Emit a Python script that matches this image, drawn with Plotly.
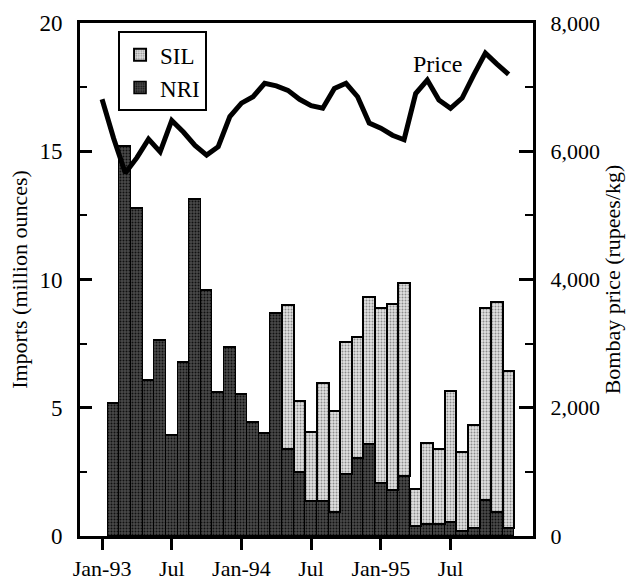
import plotly.graph_objects as go

# Monthly categories, Jan-93 .. Dec-95
years = ["93", "94", "95"]
month_names = ["Jan", "Feb", "Mar", "Apr", "May", "Jun",
               "Jul", "Aug", "Sep", "Oct", "Nov", "Dec"]
months = [f"{m}-{y}" for y in years for m in month_names]

# Imports (million ounces); no shipment data for Jan-93
nri = [None, 5.2, 15.2, 12.8, 6.1, 7.65, 3.95, 6.8, 13.15, 9.6, 5.6, 7.35,
       5.55, 4.45, 4.0, 8.7, 3.4, 2.5, 1.35, 1.35, 0.95, 2.4, 3.05, 3.6,
       2.05, 1.8, 2.35, 0.4, 0.45, 0.45, 0.55, 0.2, 0.3, 1.4, 0.95, 0.3]
sil = [None, 0, 0, 0, 0, 0, 0, 0, 0, 0, 0, 0,
       0, 0, 0, 0, 5.6, 2.75, 2.7, 4.6, 3.92, 5.15, 4.72, 5.7,
       6.83, 7.23, 7.53, 1.45, 3.17, 2.93, 5.1, 3.07, 4.02, 7.48, 8.16, 6.13]

# Bombay price (rupees/kg)
price = [6810, 6200, 5660, 5900, 6190, 5990, 6480, 6300, 6090, 5940, 6070, 6540,
         6750, 6850, 7060, 7020, 6950, 6810, 6710, 6670, 6980, 7060, 6850, 6440,
         6360, 6250, 6180, 6900, 7110, 6800, 6670, 6830, 7190, 7530, 7360, 7200]

tick_months = ["Jan-93", "Jul-93", "Jan-94", "Jul-94", "Jan-95", "Jul-95"]
tick_text = ["Jan-93", "Jul", "Jan-94", "Jul", "Jan-95", "Jul"]

FONT = "Liberation Serif, Times New Roman, serif"

fig = go.Figure()

fig.add_trace(go.Bar(
    x=months, y=nri, name="NRI",
    marker=dict(color="#363636",
                line=dict(color="black", width=1.5),
                pattern=dict(shape=".", size=3, solidity=0.35,
                             fgcolor="#101010", bgcolor="#4a4a4a",
                             fillmode="replace")),
))
fig.add_trace(go.Bar(
    x=months, y=sil, name="SIL",
    marker=dict(color="#c4c4c4",
                line=dict(color="black", width=2),
                pattern=dict(shape=".", size=3, solidity=0.35,
                             fgcolor="#8c8c8c", bgcolor="#e2e2e2",
                             fillmode="replace")),
))
fig.add_trace(go.Scatter(
    x=months, y=price, yaxis="y2", mode="lines",
    line=dict(color="black", width=5), showlegend=False,
))

fig.add_annotation(text="Price", xref="paper", yref="paper", x=0.79, y=0.92,
                   xanchor="center", yanchor="middle", showarrow=False,
                   font=dict(family=FONT, size=24, color="black"))

fig.update_layout(
    width=632, height=583,
    margin=dict(l=80, r=99, t=23, b=47),
    paper_bgcolor="white", plot_bgcolor="white",
    barmode="stack", bargap=0,
    font=dict(family=FONT, size=22, color="black"),
    legend=dict(x=0.084, y=0.984, xanchor="left", yanchor="top",
                traceorder="reversed", bordercolor="black", borderwidth=2,
                bgcolor="white", font=dict(family=FONT, size=23),
                tracegroupgap=0),
    xaxis=dict(type="category", categoryorder="array", categoryarray=months,
               range=[-1.9, 37.1], showline=True, linecolor="black", linewidth=3,
               mirror=True, ticks="outside", ticklen=11, tickwidth=2.5,
               tickcolor="black", tickvals=tick_months, ticktext=tick_text,
               ticklabelstandoff=0, tickfont=dict(size=22), automargin=False,
               showgrid=False, zeroline=False),
    yaxis=dict(range=[0, 20], dtick=5, showline=True, linecolor="black",
               linewidth=3, ticks="inside", ticklen=12, tickwidth=2.5,
               tickcolor="black", ticklabelstandoff=10, automargin=False,
               minor=dict(dtick=2.5, ticks="inside", ticklen=7, tickwidth=2,
                          tickcolor="black"),
               title=dict(text="Imports (million ounces)", standoff=6,
                          font=dict(size=22)),
               tickfont=dict(size=23), showgrid=False, zeroline=False),
    yaxis2=dict(range=[0, 8000], dtick=2000, overlaying="y", side="right",
                showline=True, linecolor="black", linewidth=3, ticks="inside",
                ticklen=14, tickwidth=2.5, tickcolor="black",
                ticklabelstandoff=10, tickformat=",d", automargin=False,
                minor=dict(dtick=1000, ticks="inside", ticklen=8, tickwidth=2,
                           tickcolor="black"),
                title=dict(text="Bombay price (rupees/kg)", standoff=2,
                           font=dict(size=22)),
                tickfont=dict(size=22), showgrid=False, zeroline=False),
)

fig.write_html("out.html")
